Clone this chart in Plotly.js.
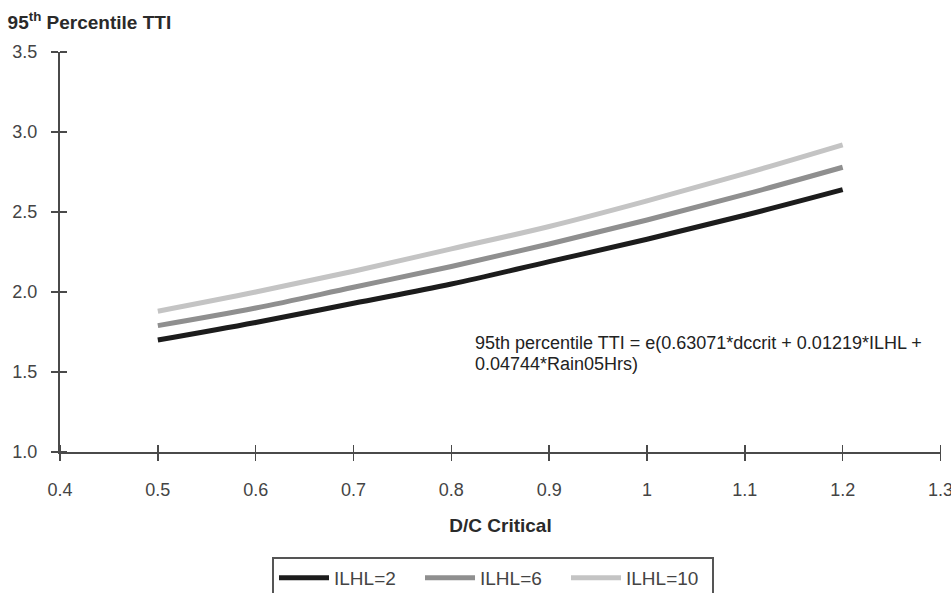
<!DOCTYPE html>
<html>
<head>
<meta charset="utf-8">
<script src="https://cdn.plot.ly/plotly-3.0.1.min.js"></script>
<style>html,body{margin:0;padding:0;background:#fff;}</style>
</head>
<body>
<div id="chart" style="width:951px;height:593px;"></div>
<script>
const dcCritical = [0.5, 0.6, 0.7, 0.8, 0.9, 1.0, 1.1, 1.2];
const ilhl2  = [1.70, 1.81, 1.93, 2.05, 2.19, 2.33, 2.48, 2.64];
const ilhl6  = [1.79, 1.90, 2.03, 2.16, 2.30, 2.45, 2.61, 2.78];
const ilhl10 = [1.88, 2.00, 2.13, 2.27, 2.41, 2.57, 2.74, 2.92];
const seriesNames = ["ILHL=2", "ILHL=6", "ILHL=10"];
const seriesColors = ["#1c1c1c", "#8f8f8f", "#c4c4c4"];
const seriesValues = [ilhl2, ilhl6, ilhl10];
const xTickVals = [0.4, 0.5, 0.6, 0.7, 0.8, 0.9, 1.0, 1.1, 1.2, 1.3];
const xTickText = ["0.4", "0.5", "0.6", "0.7", "0.8", "0.9", "1", "1.1", "1.2", "1.3"];
const yTickVals = [1.0, 1.5, 2.0, 2.5, 3.0, 3.5];
const yTickText = ["1.0", "1.5", "2.0", "2.5", "3.0", "3.5"];
const formulaLines = ["95th percentile TTI = e(0.63071*dccrit + 0.01219*ILHL +", "0.04744*Rain05Hrs)"];

const FONT = "Liberation Sans, Arial, sans-serif";
const AX = "#4a4a4a";

const traces = seriesValues.map((vals, i) => ({
  x: dcCritical, y: vals, type: "scatter", mode: "lines",
  name: seriesNames[i],
  line: {color: seriesColors[i], width: 5, shape: "spline"}
}));

const layout = {
  width: 951, height: 593,
  margin: {l: 60, r: 10, t: 52, b: 141, autoexpand: false},
  paper_bgcolor: "#fff", plot_bgcolor: "#fff",
  font: {family: FONT, color: "#333"},
  title: {text: "<b>95<sup>th</sup> Percentile TTI</b>", xref: "container", yref: "container",
    x: 0.008, xanchor: "left", y: 0.963, yanchor: "middle",
    font: {family: FONT, size: 19, color: "#2a2a2a"}},
  xaxis: {range: [0.4, 1.3005], tickmode: "array", tickvals: xTickVals, ticktext: xTickText,
    showgrid: false, zeroline: false, showline: true, linecolor: AX, linewidth: 2,
    ticks: "outside", tickcolor: AX, tickwidth: 1.5, ticklen: 7, ticklabelstandoff: 13,
    ticklabeloverflow: "allow",
    minor: {tickmode: "array", tickvals: xTickVals, ticks: "inside", ticklen: 7, tickwidth: 1.5, tickcolor: AX, showgrid: false},
    tickfont: {family: FONT, size: 18, color: "#444"},
    title: {text: "<b>D/C Critical</b>", standoff: 20, font: {family: FONT, size: 19, color: "#2a2a2a"}}},
  yaxis: {range: [1.0, 3.5005], tickmode: "array", tickvals: yTickVals, ticktext: yTickText,
    showgrid: false, zeroline: false, showline: true, linecolor: AX, linewidth: 2,
    ticks: "outside", tickcolor: AX, tickwidth: 1.5, ticklen: 7, ticklabelstandoff: 10,
    ticklabeloverflow: "allow",
    minor: {tickmode: "array", tickvals: yTickVals, ticks: "inside", ticklen: 7, tickwidth: 1.5, tickcolor: AX, showgrid: false},
    tickfont: {family: FONT, size: 18, color: "#444"}},
  showlegend: true,
  legend: {orientation: "h", x: 0.4915, xanchor: "center", y: -0.2625, yanchor: "top",
    bordercolor: "#555", borderwidth: 2, bgcolor: "#fff",
    font: {family: FONT, size: 19, color: "#444"}, itemwidth: 50, entrywidth: 81},
  annotations: formulaLines.map((t, i) => ({
    xref: "paper", yref: "paper", x: 0.469, y: 0.2725 - i * 0.0525, xanchor: "left", yanchor: "middle",
    align: "left", showarrow: false, text: t,
    font: {family: FONT, size: 18, color: "#222"}
  }))
};

Plotly.newPlot("chart", traces, layout, {displayModeBar: false, staticPlot: true});
</script>
</body>
</html>
